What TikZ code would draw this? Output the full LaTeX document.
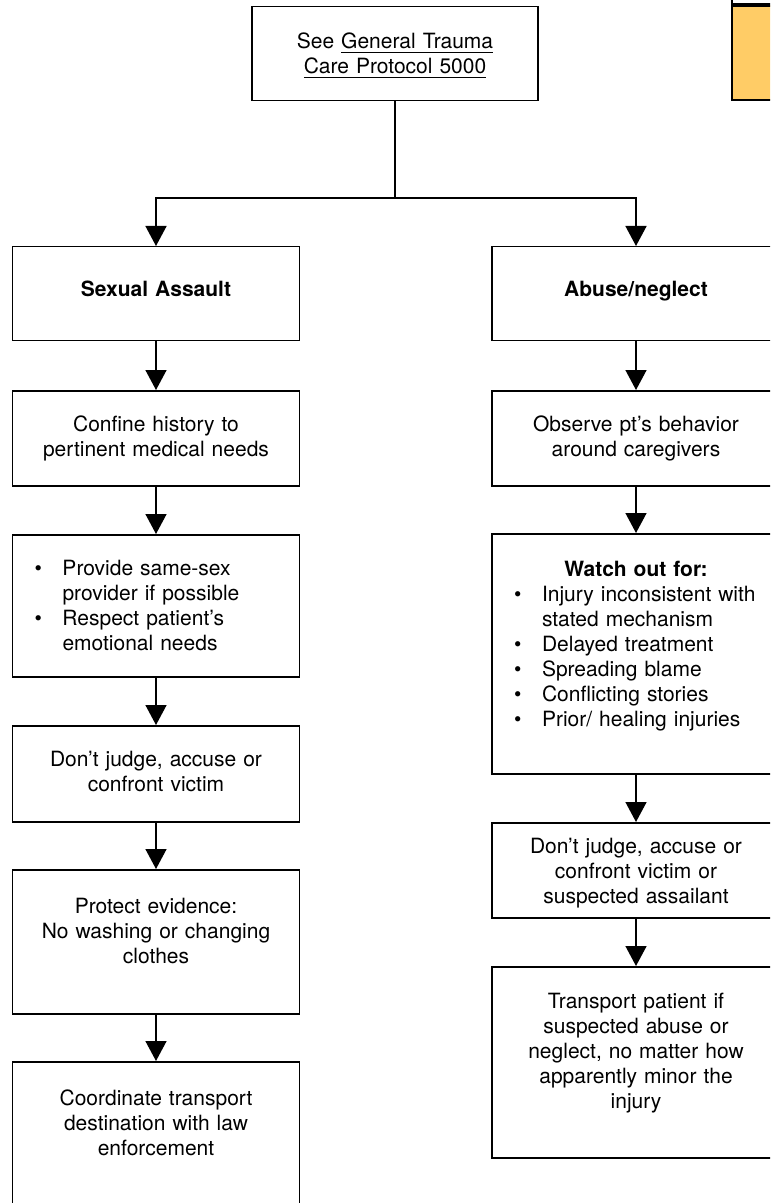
\documentclass[tikz,border=0pt]{standalone}
\usepackage{fontspec}
\setmainfont{TeX Gyre Heros}
\usetikzlibrary{arrows.meta,positioning}
\definecolor{hdrorange}{RGB}{255,204,102}
\newcommand{\bitem}{\leavevmode\hangindent=25pt\hangafter=1\hbox to 25pt{\hskip 11pt\textbullet\hfil}\ignorespaces}

\begin{document}
\begin{tikzpicture}[x=0.5pt,y=-0.5pt]
		\tikzstyle{box}=[draw,line width=0.75pt,anchor=north,inner sep=0pt,text width=143.5pt,align=center,font=\fontsize{10.5}{12.5}\selectfont]
		\tikzstyle{list}=[box,align=left]
		\tikzstyle{link}=[line width=0.75pt]
		\tikzstyle{arr}=[link,-{Triangle[width=10.5pt,length=10pt]}]

		\useasboundingbox (0,0) rectangle (770,1203);
		\clip (0,0) rectangle (770,1203);

		% clipped header box, top right
		\fill[hdrorange] (732,5) rectangle (780,100);
		\draw[line width=1.6pt] (732,5) -- (780,5);
		\draw[line width=0.9pt] (732,0) -- (732,100) -- (780,100);

		\node[box,text width=143pt,text height=21pt,text depth=26pt](tb) at (395,6){See \underline{General Trauma}\\\underline{Care Protocol 5000}};

		\coordinate (jn) at (395,198);

		% sexual assault
		\node[box,text height=25pt,text depth=22pt](sa) at (156,246){\textbf{Sexual Assault}};
		\node[box,text height=20.5pt,text depth=27pt](ch) at (156,390){Confine history to\\pertinent medical needs};
		\node[list,text height=20.5pt,text depth=50.5pt](sp) at (156,534){\bitem Provide same-sex\newline provider if possible\par\bitem Respect patient’s\newline emotional needs\par};
		\node[box,text height=20.5pt,text depth=27.5pt](dj) at (156,725){Don’t judge, accuse or\\confront victim};
		\node[box,text height=22pt,text depth=50pt](pe) at (156,869){Protect evidence:\\No washing or changing\\clothes};
		\node[box,text height=22pt,text depth=50pt](ct) at (156,1061){Coordinate transport\\destination with law\\enforcement};

		% abuse / neglect
		\node[box,text width=144pt,text height=25pt,text depth=22pt](an) at (636,246){\textbf{Abuse/neglect}};
		\node[box,text width=144pt,text height=20.5pt,text depth=27pt](ob) at (636,390){Observe pt’s behavior\\around caregivers};
		\node[list,text width=144pt,text height=21.5pt,text depth=98.5pt](wo) at (636,533){\centering\textbf{Watch out for:}\par\raggedright
			\bitem Injury inconsistent with\newline stated mechanism\par
			\bitem Delayed treatment\par
			\bitem Spreading blame\par
			\bitem Conflicting stories\par
			\bitem Prior/ healing injuries\par};
		\node[box,text width=144pt,text height=15.5pt,text depth=32pt](dv) at (636,822){Don’t judge, accuse or\\confront victim or\\suspected assailant};
		\node[box,text width=144pt,text height=21pt,text depth=74.5pt](tp) at (636,966){Transport patient if\\suspected abuse or\\neglect, no matter how\\apparently minor the\\injury};

		\draw[link] (tb) -- (jn);
		\draw[arr] (jn) -| (sa);
		\draw[arr] (jn) -| (an);

		\draw[arr] (sa) -- (ch);
		\draw[arr] (ch) -- (sp);
		\draw[arr] (sp) -- (dj);
		\draw[arr] (dj) -- (pe);
		\draw[arr] (pe) -- (ct);

		\draw[arr] (an) -- (ob);
		\draw[arr] (ob) -- (wo);
		\draw[arr] (wo) -- (dv);
		\draw[arr] (dv) -- (tp);
	\end{tikzpicture}
\end{document}
